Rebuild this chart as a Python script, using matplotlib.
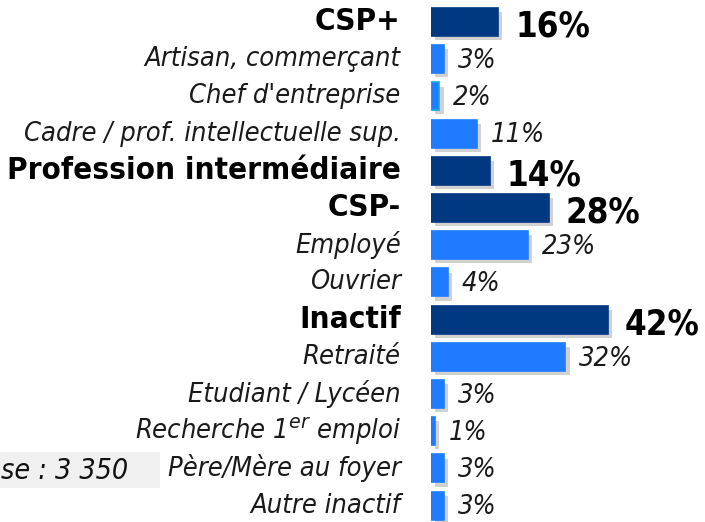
import matplotlib
matplotlib.use("Agg")
import matplotlib.pyplot as plt
import matplotlib.patheffects as pe
from matplotlib.patches import Rectangle

labels = [
    "CSP+", "Artisan, commerçant", "Chef d'entreprise", "Cadre / prof. intellectuelle sup.",
    "Profession intermédiaire", "CSP-", "Employé", "Ouvrier", "Inactif", "Retraité",
    "Etudiant / Lycéen", "Recherche 1$^{er}$ emploi", "Père/Mère au foyer", "Autre inactif",
]
values = [16, 3, 2, 11, 14, 28, 23, 4, 42, 32, 3, 1, 3, 3]
is_group = [True, False, False, False, True, True, False, False, True, False, False, False, False, False]
base_text = "se : 3 350"

DARK = "#003882"
LIGHT = "#1F7BFF"

fig = plt.figure(figsize=(7.05, 5.22), dpi=100)
ax = fig.add_axes([431 / 705, 0, 1 - 431 / 705, 1])
ax.set_xlim(0, 65.2)
ax.set_ylim(13.44, -0.59)
ax.axis("off")

shadow = [pe.SimplePatchShadow(offset=(3, -3), shadow_rgbFace="#999999", alpha=0.45), pe.Normal()]

for i, (lab, v, grp) in enumerate(zip(labels, values, is_group)):
    color = DARK if grp else LIGHT
    edge = "#12A8E0" if lab.startswith("Chef") else color
    bar = ax.barh(i, v, height=0.75, color=color, edgecolor=edge, linewidth=1.2)
    for p in bar:
        p.set_path_effects(shadow)
    if grp:
        ax.text(-7.2, i, lab, ha="right", va="center", fontsize=22.5, fontweight="bold",
                fontstretch="condensed", color="black", clip_on=False)
        ax.text(v + 4.0, i + 0.12, f"{v}%", ha="left", va="center", fontsize=25,
                fontweight="bold", fontstretch="condensed", color="black")
    else:
        ax.text(-7.2, i, lab, ha="right", va="center", fontsize=19.5, style="italic",
                fontstretch="condensed", color="#1a1a1a", clip_on=False)
        ax.text(v + 3.3, i + 0.05, f"{v}%", ha="left", va="center", fontsize=19.5,
                style="italic", fontstretch="condensed", color="#1a1a1a")

# sample size box, cut by the left edge in the original
fig.add_artist(Rectangle((0, 1 - 488 / 522), 160 / 705, 36 / 522, transform=fig.transFigure,
                         facecolor="#F0F0F0", edgecolor="none", zorder=0))
fig.text(1 / 705, 1 - 471 / 522, base_text, ha="left", va="center", fontsize=20.5,
         style="italic", fontstretch="condensed", color="#111111")

fig.savefig("out.png", dpi=100)
